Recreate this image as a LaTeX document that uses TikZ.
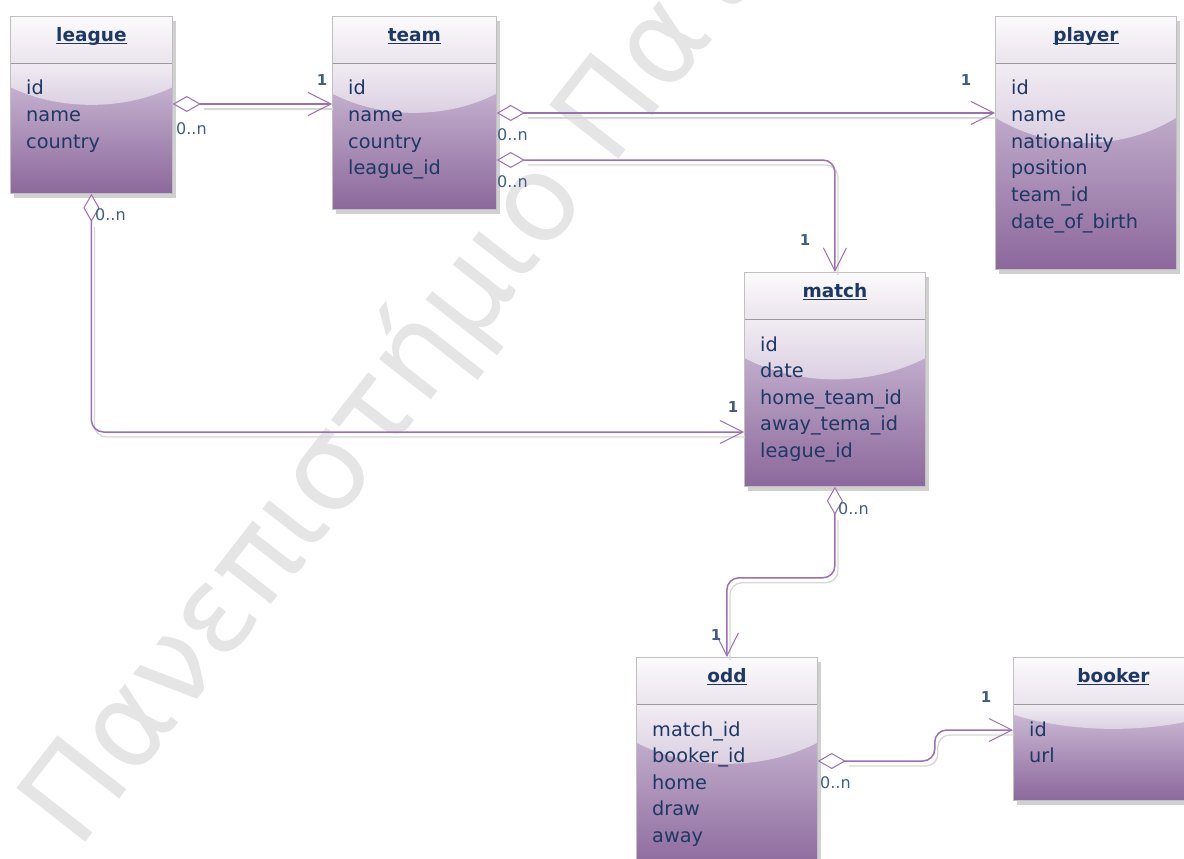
\documentclass[tikz,border=0pt]{standalone}
\usepackage{fontspec}
\setmainfont{DejaVu Sans}
\usepackage{tikz}
\usetikzlibrary{arrows.meta,calc,shadows}

\definecolor{boxline}{RGB}{192,192,192}
\definecolor{headtop}{RGB}{252,251,252}
\definecolor{headbot}{RGB}{234,228,237}
\definecolor{bodytop}{RGB}{208,192,217}
\definecolor{bodybot}{RGB}{140,104,156}
\definecolor{glosstop}{RGB}{241,236,243}
\definecolor{glossbot}{RGB}{216,204,223}
\definecolor{sepline}{RGB}{155,155,155}
\definecolor{boxshadow}{RGB}{208,208,208}
\definecolor{textnavy}{RGB}{30,56,100}
\definecolor{labelblue}{RGB}{62,94,132}
\definecolor{linkpurple}{RGB}{155,112,178}
\definecolor{linkshadow}{RGB}{214,214,214}
\definecolor{wmgray}{RGB}{229,229,229}

\begin{document}
\begin{tikzpicture}[x=1pt,y=-1pt,
    classbox/.style={draw=boxline, line width=0.8pt, inner sep=0pt, anchor=north west,
      drop shadow={shadow xshift=4pt, shadow yshift=-5pt, fill=boxshadow, opacity=1},
      path picture={
        \coordinate (nw) at (path picture bounding box.north west);
        \coordinate (ne) at (path picture bounding box.north east);
        \coordinate (sw) at (path picture bounding box.south west);
        \coordinate (se) at (path picture bounding box.south east);
        \coordinate (pa) at ([yshift=-47pt]nw);
        \coordinate (pb) at ([yshift=-47pt]ne);
        \shade[top color=headtop, bottom color=headbot] (nw) rectangle (pb);
        \shade[top color=bodytop, bottom color=bodybot] (pa) rectangle (se);
        \shade[top color=glosstop, bottom color=glossbot]
          (pa) -- ($(nw)!0.40!(sw)$)
          .. controls ($($(nw)!0.533!(sw)$)!0.3!($(ne)!0.533!(se)$)$)
          and ($($(nw)!0.533!(sw)$)!0.7!($(ne)!0.533!(se)$)$)
          .. ($(ne)!0.40!(se)$) -- (pb) -- cycle;
        \draw[sepline, line width=0.8pt] (pa) -- (pb);
      }},
    classtitle/.style={font=\bfseries\fontsize{18.5}{20}\selectfont, text=textnavy,
      inner sep=0pt, anchor=base},
    attr/.style={font=\fontsize{19.3}{21}\selectfont, text=textnavy,
      inner sep=0pt, anchor=base west},
    mult/.style={font=\fontsize{16}{18}\selectfont, text=labelblue, inner sep=0pt},
    one/.style={mult, font=\bfseries\fontsize{15}{17}\selectfont},
    link/.style={draw=linkpurple, line width=1.5pt, rounded corners=12pt,
      {Diamond[length=28pt,width=16pt,fill=white,line width=1pt]}-{Straight Barb[length=23pt,width=23pt,line width=1pt]},
      preaction={draw=linkshadow, line width=1.3pt, arrows=-, shorten <=28pt, shorten >=2pt,
        transform canvas={shift={(3pt,-5pt)}}}},
    watermark/.style={font=\fontsize{120}{120}\selectfont, text=wmgray, inner sep=0pt}]

  \clip (0,0) rectangle (1184,859);

  % Watermark
  \node[watermark, rotate=52, anchor=base west] (wm) at (78,852) {Πανεπιστήμιο Πατρών};

  %==================== Classes ====================
  \foreach \n/\x/\y/\w/\h in {league/10/16/162/177, team/332/16/164/193,
      player/995/16/181/253, match/744/272/181/214,
      odd/636/657/181/213, booker/1013/657/200/143} {
    \node[classbox, minimum width=\w, minimum height=\h] (\n) at (\x,\y) {};
    \node[classtitle] (\n-t) at ([yshift=-25.5pt]\n.north) {\underline{\smash{\n}}};
  }

  % Attributes
  \foreach \n/\attrs in {league/{id,name,country},
      team/{id,name,country,league\_id},
      player/{id,name,nationality,position,team\_id,date\_of\_birth},
      match/{id,date,home\_team\_id,away\_tema\_id,league\_id},
      odd/{match\_id,booker\_id,home,draw,away},
      booker/{id,url}} {
    \foreach \a [count=\i] in \attrs {
      \pgfmathsetmacro\dy{79+(\i-1)*26.6}
      \node[attr] (\n-\i) at ([xshift=16pt,yshift=-\dy pt]\n.north west) {\a};
    }
  }

  %==================== Associations ====================
  \draw[link] ([yshift=-88pt]league.north east) -- ([yshift=-88pt]team.north west);
  \draw[link] ([yshift=-97pt]team.north east) -- ([yshift=-97pt]player.north west);
  \draw[link] ([yshift=-144pt]team.north east) -| (match.north);
  \draw[link] (league.south) |- ([yshift=-160pt]match.north west);
  \draw[link] (match.south) -- ++(0,91) -| (odd.north);
  \draw[link] ([yshift=-104pt]odd.north east) -- ++(117,0) |- ([yshift=-73pt]booker.north west);

  % Multiplicities
  \node[mult, anchor=west] (m1) at (176,129) {0..n};
  \node[one] (o1) at (322,80) {1};
  \node[mult, anchor=west] (m2) at (497,135) {0..n};
  \node[one] (o2) at (966,80) {1};
  \node[mult, anchor=west] (m3) at (497,182) {0..n};
  \node[one] (o3) at (805,240) {1};
  \node[mult, anchor=west] (m4) at (95,215) {0..n};
  \node[one] (o4) at (733,407) {1};
  \node[mult, anchor=west] (m5) at (838,509) {0..n};
  \node[one] (o5) at (716,635) {1};
  \node[mult, anchor=west] (m6) at (820,783) {0..n};
  \node[one] (o6) at (986,697) {1};

\end{tikzpicture}
\end{document}
